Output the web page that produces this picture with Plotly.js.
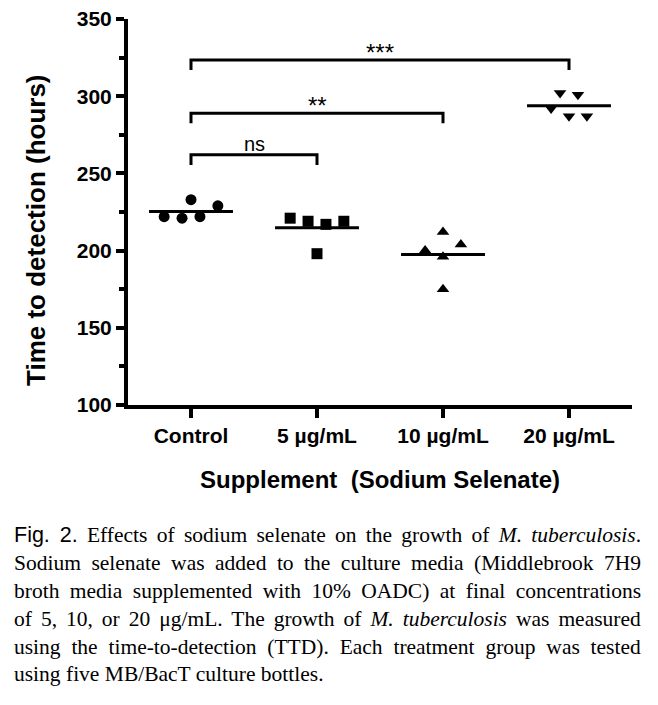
<!DOCTYPE html>
<html><head><meta charset="utf-8">
<script src="https://cdn.plot.ly/plotly-3.0.1.min.js"></script>
<style>html,body{margin:0;padding:0;background:#fff;}</style>
</head><body>
<div id="chart" style="width:658px;height:705px"></div>
<script>
// ---------------- data ----------------
const categories = ['Control', '5 µg/mL', '10 µg/mL', '20 µg/mL'];
const controlTTD = [233, 222, 221, 222, 229];
const sel5TTD = [221, 219, 217, 219, 198];
const sel10TTD = [212, 200, 204, 196, 175];
const sel20TTD = [302, 301, 292, 287, 287];
const yTickVals = [100, 150, 200, 250, 300, 350];
const comparisons = [
  {from: 0, to: 1, label: 'ns', y: 262},
  {from: 0, to: 2, label: '**', y: 289},
  {from: 0, to: 3, label: '***', y: 323.5}
];
const xTitle = 'Supplement\u00a0\u00a0(Sodium Selenate)';
const yTitle = 'Time to detection (hours)';
const captionLines = [
  '<span style="font-family:Liberation Sans, Arial, sans-serif">Fig. 2.</span> Effects of sodium selenate on the growth of <i>M. tuberculosis</i>.',
  'Sodium selenate was added to the culture media (Middlebrook 7H9',
  'broth media supplemented with 10% OADC) at final concentrations',
  'of 5, 10, or 20 μg/mL. The growth of <i>M. tuberculosis</i> was measured',
  'using the time-to-detection (TTD). Each treatment group was tested',
  'using five MB/BacT culture bottles.'
];

// ---------------- styling ----------------
const groups = [controlTTD, sel5TTD, sel10TTD, sel20TTD];
const symbols = ['circle', 'square', 'triangle-up', 'triangle-down'];
const markerSizes = [11, 11, 11, 11];
const jitterSteps = [[0, -3, -1, 1, 3], [-3, -1, 1, 3, 0], [0, -2, 2, 0, 0], [-1, 1, -2, 0, 2]];
const jitterUnit = 0.071;
const meanHalfWidth = 0.333;
const bracketDrop = 6.5;

const W = 658, H = 705;
const M = {l: 128, r: 26, t: 19, b: 300};
const PW = W - M.l - M.r, PH = H - M.t - M.b;
const px2x = px => (px - M.l) / PW;
const px2y = py => (H - M.b - py) / PH;

const sansBold = {family: 'Liberation Sans, Arial, sans-serif', color: '#000', weight: 'bold'};

const traces = [];
groups.forEach((vals, g) => {
  traces.push({
    type: 'scatter', mode: 'markers',
    x: vals.map((v, i) => g + jitterSteps[g][i] * jitterUnit),
    y: vals,
    marker: {symbol: symbols[g], size: markerSizes[g], color: '#000', line: {width: 0}},
    showlegend: false, hoverinfo: 'skip'
  });
  const mean = vals.reduce((a, b) => a + b, 0) / vals.length;
  traces.push({
    type: 'scatter', mode: 'lines',
    x: [g - meanHalfWidth, g + meanHalfWidth], y: [mean, mean],
    line: {color: '#000', width: 3},
    showlegend: false, hoverinfo: 'skip'
  });
});
comparisons.forEach(c => {
  traces.push({
    type: 'scatter', mode: 'lines',
    x: [c.from, c.from, c.to, c.to],
    y: [c.y - bracketDrop, c.y, c.y, c.y - bracketDrop],
    line: {color: '#000', width: 3},
    showlegend: false, hoverinfo: 'skip', cliponaxis: false
  });
});

const annotations = [];
comparisons.forEach(c => {
  const isNs = c.label === 'ns';
  annotations.push({
    x: (c.from + c.to) / 2, y: c.y, xref: 'x', yref: 'y',
    text: c.label, showarrow: false, xanchor: 'center', yanchor: 'bottom',
    yshift: isNs ? -2 : -8,
    font: {family: 'Liberation Sans, Arial, sans-serif', size: isNs ? 20 : 24, color: '#000'}
  });
});
annotations.push({
  x: px2x(36), y: px2y(230), xref: 'paper', yref: 'paper',
  text: yTitle, textangle: -90, showarrow: false, xanchor: 'center', yanchor: 'middle',
  font: Object.assign({size: 26}, sansBold)
});
const captionStart = annotations.length;
const captionBaselines = [543, 571, 599, 627, 655, 682];
captionLines.forEach((t, i) => {
  annotations.push({
    x: px2x(12), y: px2y(captionBaselines[i] + 6), xref: 'paper', yref: 'paper',
    text: t, showarrow: false, xanchor: 'left', yanchor: 'bottom', align: 'left',
    font: {family: 'Liberation Serif, Times New Roman, serif', size: 21.5, color: '#000'}
  });
});

const layout = {
  width: W, height: H, margin: M,
  paper_bgcolor: '#fff', plot_bgcolor: '#fff', showlegend: false,
  xaxis: {
    range: [-0.5, 3.5], tickmode: 'array', tickvals: [0, 1, 2, 3], ticktext: categories,
    showline: true, linecolor: '#000', linewidth: 4, mirror: false,
    ticks: 'outside', ticklen: 9, tickwidth: 4, tickcolor: '#000',
    showgrid: false, zeroline: false,
    tickfont: Object.assign({size: 21}, sansBold),
    title: {text: xTitle, font: Object.assign({size: 24}, sansBold), standoff: 26}
  },
  yaxis: {
    range: [100, 350], tickmode: 'array', tickvals: yTickVals,
    showline: true, linecolor: '#000', linewidth: 4,
    ticks: 'outside', ticklen: 8, tickwidth: 4, tickcolor: '#000',
    minor: {dtick: 25, tick0: 100, ticks: 'outside', ticklen: 5, tickwidth: 4, tickcolor: '#000', showgrid: false},
    showgrid: false, zeroline: false,
    tickfont: Object.assign({size: 21}, sansBold)
  },
  annotations: annotations
};

Plotly.newPlot('chart', traces, layout, {staticPlot: true, displayModeBar: false}).then(gd => {
  // justify caption lines (all but the last) to the text block width
  const target = 639 - 12;
  for (let i = 0; i < captionLines.length - 1; i++) {
    const el = gd.querySelector('g.annotation[data-index="' + (captionStart + i) + '"] text.annotation-text');
    if (!el) continue;
    const w = el.getBBox().width;
    const spaces = (el.textContent.match(/[ \u00a0]/g) || []).length;
    if (spaces > 0) el.style.wordSpacing = ((target - w) / spaces) + 'px';
  }
});
</script>
</body></html>
